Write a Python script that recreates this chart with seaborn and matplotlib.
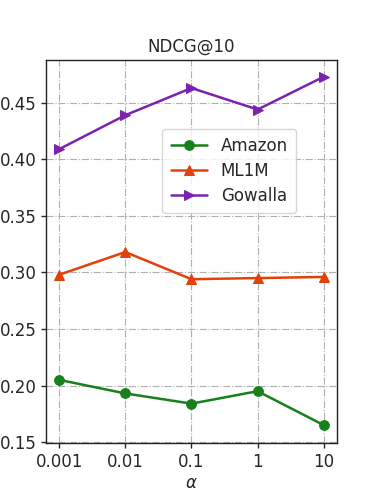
import matplotlib
matplotlib.use("Agg")
import matplotlib.pyplot as plt
import seaborn as sns
import pandas as pd

alphas = ["0.001", "0.01", "0.1", "1", "10"]
amazon = [0.205, 0.193, 0.184, 0.195, 0.165]
ml1m = [0.298, 0.318, 0.294, 0.295, 0.296]
gowalla = [0.409, 0.439, 0.463, 0.444, 0.473]

sns.set_style("white")
plt.rcParams['font.family'] = ['DejaVu Sans']

fig = plt.figure(figsize=(3.74, 4.98), dpi=100)
ax = fig.add_axes([0.123, 0.110, 0.778, 0.770])

idx = list(range(len(alphas)))
series = [("Amazon", amazon, "#17801a", "o"),
          ("ML1M", ml1m, "#e2420a", "^"),
          ("Gowalla", gowalla, "#7b22b0", ">")]
for name, vals, col, mk in series:
    df = pd.DataFrame({"x": idx, "y": vals})
    sns.lineplot(data=df, x="x", y="y", ax=ax, color=col, marker=mk,
                 markersize=7, linewidth=1.8, markeredgecolor=col, label=name)

ax.set_xticks(idx)
ax.set_xticklabels(alphas)
ax.set_xlim(-0.2, 4.2)
ax.set_ylim(0.149, 0.488)
ax.set_yticks([0.15, 0.20, 0.25, 0.30, 0.35, 0.40, 0.45])
ax.set_yticklabels(["0.15", "0.20", "0.25", "0.30", "0.35", "0.40", "0.45"])
ax.tick_params(axis='both', labelsize=12, length=3.5, width=1, direction='out', left=True, bottom=True)
ax.grid(True, linestyle='-.', color='#b0b0b0', linewidth=0.8)
for s in ax.spines.values():
    s.set_color('#222222')
    s.set_linewidth(1)
ax.set_xlabel(r"$\alpha$", fontsize=12, labelpad=2)
ax.set_ylabel("")
ax.set_title("NDCG@10", fontsize=12, pad=6)
ax.legend(loc='center', bbox_to_anchor=(0.63, 0.71), fontsize=12, frameon=True,
          handlelength=2.2, borderpad=0.5, labelspacing=0.4)

fig.savefig("out.png", dpi=100)
